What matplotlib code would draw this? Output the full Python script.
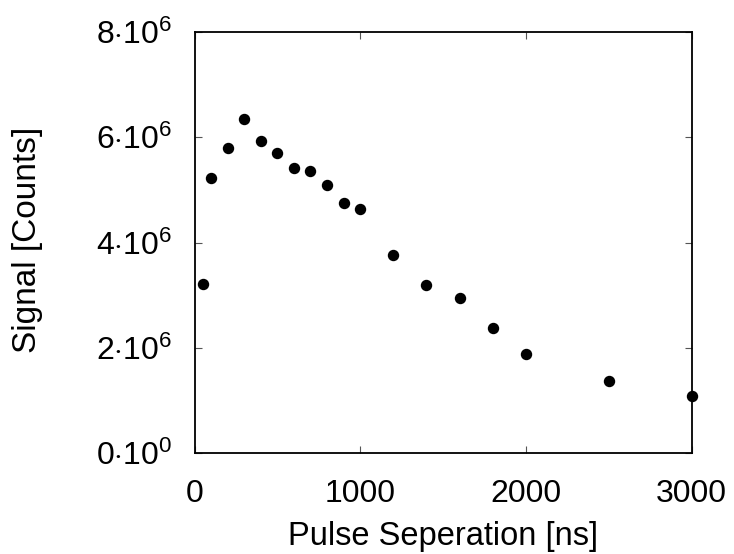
import matplotlib
matplotlib.use("Agg")
import matplotlib.pyplot as plt
from matplotlib.ticker import FixedLocator, FuncFormatter

plt.rcParams['font.family'] = ['Liberation Sans', 'DejaVu Sans']
plt.rcParams['mathtext.fontset'] = 'custom'
plt.rcParams['mathtext.rm'] = 'Liberation Sans'
plt.rcParams['mathtext.it'] = 'Liberation Sans'

separation_ns = [50, 100, 200, 300, 400, 500, 600, 700, 800, 900, 1000,
                 1200, 1400, 1600, 1800, 2000, 2500, 3000]
signal_counts = [3.21e6, 5.23e6, 5.80e6, 6.34e6, 5.93e6, 5.70e6, 5.41e6, 5.36e6,
                 5.09e6, 4.76e6, 4.64e6, 3.77e6, 3.20e6, 2.94e6, 2.37e6, 1.88e6,
                 1.37e6, 1.09e6]
x_ticks = [0, 1000, 2000, 3000]
y_ticks = [0, 2e6, 4e6, 6e6, 8e6]

fig = plt.figure(figsize=(7.34, 5.54), dpi=100)
ax = fig.add_axes([194.5 / 734, 1 - 453 / 554, 497 / 734, 421 / 554])

ax.plot(separation_ns, signal_counts, 'o', color='black', markersize=7.2,
        clip_on=False)

ax.set_xlim(0, 3000)
ax.set_ylim(0, 8e6)
ax.xaxis.set_major_locator(FixedLocator(x_ticks))
ax.yaxis.set_major_locator(FixedLocator(y_ticks))


def yfmt(v, pos):
    if v == 0:
        return r'0$\cdot$10$^{0}$'
    return r'%d$\cdot$10$^{6}$' % round(v / 1e6)


ax.yaxis.set_major_formatter(FuncFormatter(yfmt))
ax.tick_params(direction='in', length=5, width=0.8, color='#555555',
               labelsize=23, top=True, right=True)
ax.tick_params(axis='x', pad=19)
ax.tick_params(axis='y', pad=16)
for s in ax.spines.values():
    s.set_linewidth(1.3)

ax.set_xlabel('Pulse Seperation [ns]', fontsize=23.5)
ax.set_ylabel('Signal [Counts]', fontsize=24)
ax.xaxis.set_label_coords(0.5, -0.162)
ax.yaxis.set_label_coords(-0.3054, 0.506)

fig.savefig('out.png', dpi=100)
